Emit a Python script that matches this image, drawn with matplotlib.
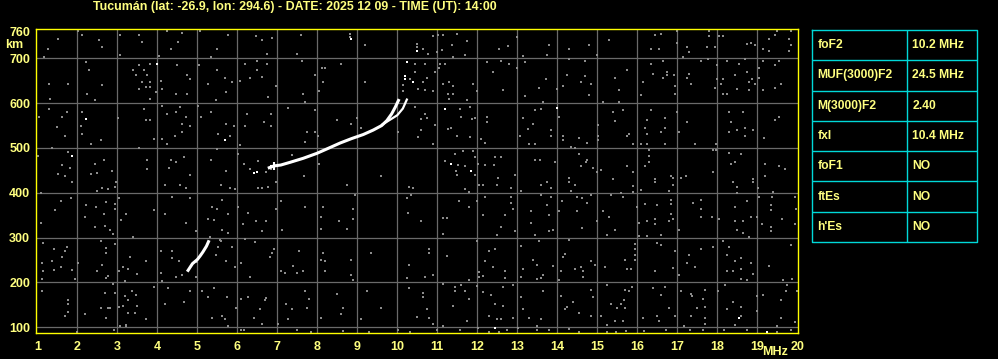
from matplotlib import pyplot as plt
import numpy as np

plt.rcParams.update({'font.family': 'Liberation Sans', 'font.weight': 'bold'})

title = "Tucumán (lat: -26.9, lon: 294.6) - DATE: 2025 12 09 - TIME (UT): 14:00"

freq_ticks = list(range(1, 21))
height_ticks = [100, 200, 300, 400, 500, 600, 700, 760]

# F2 ordinary trace
o_f = [6.80, 6.92, 7.09, 7.32, 7.65, 7.99, 8.32, 8.57, 8.86, 9.15, 9.40, 9.61, 9.74, 9.86, 9.95, 10.03]
o_h = [456, 460, 462, 468, 477, 488, 501, 511, 521, 530, 540, 550, 561, 576, 591, 606]
# F2 extraordinary branch
x_f = [9.62, 9.82, 10.00, 10.14, 10.24]
x_h = [552, 563, 573, 588, 608]
# lower trace
e_f = [4.77, 4.88, 5.00, 5.07, 5.14, 5.23, 5.28]
e_h = [227, 242, 251, 259, 268, 281, 291]
# isolated white echoes
white_f = [4.00, 2.23, 1.88, 5.69, 6.42, 6.50, 8.85, 10.24, 10.20, 10.20, 10.39, 10.49, 11.20, 11.35, 11.85, 13.99, 12.44, 18.54, 19.24]
white_h = [688, 565, 482, 518, 444, 447, 744, 691, 654, 660, 647, 717, 587, 464, 449, 590, 99, 121, 90]

table_rows = [("foF2", "10.2 MHz"), ("MUF(3000)F2", "24.5 MHz"), ("M(3000)F2", "2.40"),
              ("fxI", "10.4 MHz"), ("foF1", "NO"), ("ftEs", "NO"), ("h'Es", "NO")]

noise_upper_left = [
    (2.03, 762), (2.13, 753), (1.53, 744), (2.54, 740), (2.63, 725), (1.28, 721), (1.17, 703), (3.08, 753),
    (3.54, 753), (3.63, 736), (3.08, 708), (4.04, 706), (4.25, 760), (4.63, 757), (4.53, 736), (4.34, 720),
    (5.07, 762), (5.78, 753), (5.50, 721), (5.34, 703), (6.46, 750), (6.63, 740), (6.74, 710), (6.88, 745),
    (2.21, 691), (2.29, 673), (1.29, 643), (1.78, 643), (2.25, 620), (2.63, 641), (2.44, 607), (1.33, 609),
    (3.39, 674), (3.54, 684), (3.67, 675), (3.83, 688), (3.46, 662), (3.63, 648), (3.75, 662), (3.81, 647),
    (3.71, 635), (3.54, 632), (3.83, 635), (3.96, 624), (3.83, 609), (4.13, 632), (4.09, 650), (4.50, 684),
    (4.75, 662), (4.83, 653), (4.46, 620), (4.75, 620), (5.04, 684), (5.49, 673), (5.28, 643), (5.69, 656),
    (5.88, 647), (5.71, 624), (5.48, 606), (6.19, 688), (6.07, 650), (6.33, 656), (6.50, 693), (6.49, 674),
    (6.75, 688), (6.63, 658), (6.96, 639), (6.77, 613), (1.29, 587), (1.63, 570), (1.74, 581), (1.49, 546),
    (1.04, 568), (1.69, 527), (2.13, 581), (2.09, 550), (2.13, 531), (2.34, 509), (2.59, 518),
    (3.03, 567), (3.67, 587), (3.71, 563), (3.83, 563), (3.93, 521), (4.13, 594), (4.25, 576), (4.58, 591),
    (4.46, 581), (4.71, 568), (4.63, 553), (4.63, 535), (4.83, 550), (4.44, 527), (4.13, 520), (4.24, 509),
    (5.03, 593), (5.09, 568), (5.34, 581), (5.71, 553), (5.92, 550), (5.53, 531), (5.83, 526), (6.06, 506),
    (6.19, 548), (6.24, 576), (6.67, 557), (6.84, 576), (6.84, 550), (7.27, 589), (1.03, 482), (1.38, 501),
    (1.78, 490), (1.63, 462), (1.83, 456), (1.53, 441), (1.69, 438), (2.34, 441), (2.50, 444), (2.44, 464),
    (2.67, 473), (2.88, 449), (3.75, 473), (3.75, 454), (3.54, 501), (4.34, 473), (4.46, 469), (4.67, 479),
    (4.29, 456), (4.83, 439), (5.34, 473), (5.50, 497), (5.71, 449), (6.02, 486), (6.17, 464), (6.53, 470),
    (6.71, 447), (6.84, 454), (6.33, 453), (7.09, 462),
]
noise_upper_mid = [
    (8.82, 755), (8.82, 748), (7.59, 753), (7.49, 710), (9.20, 730), (10.49, 732), (10.49, 725), (10.65, 720),
    (10.78, 710), (10.99, 714), (10.90, 750), (11.03, 753), (11.15, 753), (11.49, 755), (11.36, 730),
    (11.74, 738), (11.70, 708), (11.39, 703), (11.11, 718), (12.55, 721), (12.78, 727), (12.99, 747),
    (13.14, 706), (7.61, 693), (8.11, 678), (8.19, 678), (8.59, 688), (7.95, 663), (8.15, 648), (8.05, 626),
    (7.64, 620), (7.70, 603), (9.19, 648), (10.45, 688), (10.32, 654), (10.45, 669), (10.70, 688),
    (10.74, 656), (10.65, 647), (10.53, 632), (10.70, 629), (10.90, 628), (10.14, 628), (10.15, 641),
    (10.94, 669), (11.07, 688), (11.20, 688), (11.05, 678), (11.30, 648), (11.40, 639), (11.15, 643),
    (11.28, 620), (11.30, 609), (11.39, 620), (11.74, 608), (11.89, 643), (11.99, 628), (12.24, 691),
    (12.39, 670), (12.59, 693), (12.80, 688), (12.65, 630), (12.99, 678), (13.19, 691), (13.19, 617),
    (13.55, 633), (7.95, 585), (8.49, 563), (8.84, 553), (8.99, 566), (9.10, 544), (7.95, 535), (8.03, 526),
    (7.74, 536), (7.70, 514), (10.45, 592), (10.70, 576), (10.60, 565), (10.74, 566), (10.94, 551),
    (11.57, 587), (11.82, 591), (11.86, 565), (11.95, 566), (11.59, 570), (12.24, 568), (12.25, 557),
    (11.34, 544), (11.28, 542), (11.49, 526), (11.82, 524), (10.59, 541), (10.53, 524), (10.89, 509),
    (10.03, 536), (12.09, 520), (12.19, 512), (13.14, 566), (13.28, 542), (13.07, 526), (13.30, 509),
    (13.45, 509), (13.39, 553), (13.45, 585), (13.59, 587), (13.64, 603), (7.36, 484), (8.05, 464),
    (7.67, 438), (9.59, 438), (11.20, 471), (11.45, 486), (11.65, 494), (11.89, 494), (11.95, 479),
    (11.53, 461), (11.70, 460), (11.47, 449), (11.49, 439), (11.95, 439), (12.03, 464), (12.19, 462),
    (12.42, 462), (12.44, 479), (12.59, 479), (12.94, 439), (13.45, 474), (13.57, 474), (12.53, 434),
]
noise_upper_right = [
    (13.80, 730), (13.74, 708), (14.30, 721), (14.79, 730), (15.30, 740), (14.99, 708), (16.45, 753),
    (16.59, 755), (16.34, 721), (16.54, 721), (16.99, 762), (16.99, 735), (17.24, 725), (17.30, 714),
    (17.15, 703), (17.80, 762), (17.80, 750), (18.05, 750), (18.15, 750), (17.75, 725), (17.94, 725),
    (18.74, 732), (18.84, 735), (18.94, 730), (19.14, 721), (19.30, 717), (19.30, 744), (19.45, 753),
    (19.50, 762), (19.84, 762), (19.80, 744), (19.84, 730), (19.80, 717), (13.71, 653), (14.24, 662),
    (14.69, 693), (14.59, 647), (14.70, 660), (14.84, 643), (14.80, 618), (13.99, 632), (14.14, 639),
    (14.30, 699), (15.74, 675), (15.44, 656), (15.55, 630), (15.15, 603), (15.55, 603), (16.09, 618),
    (16.14, 648), (16.34, 688), (16.64, 693), (16.39, 665), (16.64, 656), (16.75, 670), (16.75, 662),
    (16.92, 662), (16.94, 639), (16.94, 620), (17.30, 665), (17.25, 656), (17.34, 643), (17.59, 693),
    (17.78, 699), (17.99, 684), (17.95, 634), (17.99, 653), (18.24, 693), (18.54, 688), (18.69, 699),
    (18.74, 670), (18.44, 662), (18.14, 653), (18.09, 643), (18.49, 632), (18.14, 620), (18.25, 620),
    (18.79, 630), (18.79, 648), (18.88, 653), (18.94, 643), (19.04, 678), (19.04, 656), (19.14, 693),
    (19.45, 684), (19.55, 693), (19.59, 643), (19.45, 634), (19.14, 630), (14.04, 570), (13.84, 541),
    (13.84, 527), (14.14, 527), (14.14, 518), (14.54, 522), (14.74, 512), (15.03, 551), (15.03, 527),
    (15.03, 518), (15.39, 581), (15.44, 561), (15.64, 585), (15.74, 527), (15.80, 531), (15.89, 509),
    (16.34, 585), (16.24, 563), (16.20, 544), (16.24, 531), (16.10, 509), (16.24, 509), (16.69, 566),
    (16.69, 544), (16.59, 536), (16.69, 509), (17.05, 536), (16.99, 581), (17.24, 559), (17.44, 509),
    (18.30, 581), (18.64, 581), (18.34, 559), (18.50, 541), (18.69, 544), (18.89, 541), (18.30, 536),
    (18.69, 527), (19.17, 522), (19.45, 563), (19.55, 570), (17.98, 509), (14.34, 503), (14.45, 500),
    (14.54, 486), (13.94, 469), (14.71, 469), (14.74, 474), (14.59, 460), (14.89, 455), (14.99, 447),
    (15.09, 451), (14.30, 432), (15.74, 460), (15.89, 447), (15.39, 430), (16.30, 496), (16.30, 482),
    (16.30, 468), (16.20, 460), (16.45, 430), (16.84, 438), (16.89, 434), (17.09, 434), (17.21, 438),
    (17.89, 496), (17.98, 496), (18.30, 488), (18.59, 486), (18.44, 469), (18.34, 464), (17.89, 447),
    (19.19, 464), (19.19, 438), (19.55, 460), (19.69, 453), (18.89, 430),
]
noise_lower_left = [
    (1.09, 400), (1.88, 423), (2.50, 404), (2.63, 410), (2.78, 408), (2.96, 423), (2.94, 413), (4.19, 417),
    (4.58, 417), (4.73, 410), (5.59, 417), (5.83, 410), (5.94, 408), (6.53, 410), (6.63, 410), (6.78, 413),
    (6.98, 423), (1.59, 382), (1.84, 388), (1.44, 361), (1.09, 333), (2.23, 373), (2.48, 368), (2.73, 380),
    (2.19, 346), (2.44, 324), (2.67, 352), (2.69, 326), (2.83, 318), (2.89, 309), (2.94, 374), (2.94, 363),
    (3.09, 339), (3.04, 388), (3.23, 352), (3.39, 301), (3.93, 361), (4.19, 352), (4.38, 391), (4.83, 389),
    (4.73, 333), (4.96, 315), (5.38, 368), (5.50, 363), (5.63, 385), (5.27, 341), (5.43, 339), (5.63, 316),
    (5.78, 353), (5.78, 311), (6.03, 368), (6.14, 330), (6.28, 356), (6.48, 336), (6.71, 337), (6.63, 315),
    (7.09, 382), (7.13, 318), (6.98, 363), (1.14, 289), (1.42, 274), (1.75, 279), (1.69, 270), (1.38, 248),
    (1.63, 257), (1.13, 244), (1.14, 225), (1.42, 227), (1.59, 234), (1.88, 227), (1.94, 207), (1.13, 207),
    (2.02, 244), (2.59, 292), (2.73, 278), (2.73, 266), (2.94, 285), (2.63, 240), (2.50, 226), (2.73, 211),
    (2.78, 214), (3.04, 225), (3.14, 234), (3.28, 229), (3.49, 220), (3.33, 257), (3.73, 248), (3.19, 203),
    (4.09, 270), (4.38, 270), (4.38, 254), (4.54, 248), (4.09, 222), (4.13, 203), (4.46, 213), (4.63, 216),
    (5.59, 292), (5.53, 279), (5.88, 279), (5.46, 261), (5.73, 248), (5.94, 234), (6.09, 244), (6.19, 296),
    (6.44, 291), (6.33, 212), (6.92, 274), (6.88, 266), (6.83, 257), (7.09, 225), (7.19, 222), (1.13, 181),
    (1.78, 162), (1.78, 153), (1.69, 125), (1.77, 135), (2.19, 129), (2.69, 177), (2.59, 144), (2.78, 144),
    (2.83, 144), (2.89, 196), (2.94, 177), (2.73, 121), (3.04, 145), (3.14, 147), (3.19, 170), (3.28, 162),
    (3.38, 181), (3.46, 173), (3.49, 147), (3.28, 132), (3.44, 132), (3.21, 105), (3.73, 118), (3.92, 190),
    (4.28, 188), (4.19, 153), (4.68, 157), (4.83, 181), (5.13, 181), (5.28, 167), (5.43, 187), (5.38, 121),
    (5.63, 125), (5.69, 118), (5.74, 167), (5.78, 103), (5.96, 142), (6.09, 164), (6.28, 167), (6.42, 121),
    (6.56, 140), (6.71, 166), (6.69, 162), (6.63, 108), (7.03, 108), (7.23, 151), (7.28, 118), (3.08, 102),
    (3.21, 103), (2.00, 90), (2.93, 93), (6.09, 94), (6.17, 94), (5.00, 246), (4.98, 213), (5.33, 302),
    (5.58, 294),
]
noise_lower_mid = [
    (8.74, 417), (8.95, 395), (10.30, 413), (10.39, 411), (10.34, 395), (10.24, 388), (10.28, 356),
    (10.59, 337), (7.70, 368), (8.14, 368), (8.09, 346), (8.09, 320), (8.55, 337), (8.89, 363), (8.89, 342),
    (8.74, 320), (11.70, 408), (11.80, 402), (12.05, 417), (12.14, 417), (12.50, 417), (12.84, 410),
    (13.09, 404), (13.59, 417), (13.59, 395), (12.19, 391), (11.55, 382), (11.80, 368), (11.99, 382),
    (12.14, 350), (12.69, 350), (12.84, 391), (12.84, 378), (12.89, 363), (13.34, 359), (13.34, 333),
    (12.59, 324), (12.94, 315), (12.49, 306), (13.44, 306), (11.14, 343), (11.24, 343), (11.14, 309),
    (7.54, 270), (8.14, 266), (8.09, 251), (8.19, 248), (7.39, 237), (7.49, 222), (7.64, 225), (8.19, 225),
    (8.84, 251), (8.84, 216), (8.89, 205), (9.35, 266), (10.30, 239), (10.24, 209), (10.70, 212),
    (10.89, 216), (10.80, 274), (10.80, 266), (11.24, 259), (11.80, 205), (11.99, 292), (12.29, 270),
    (12.44, 274), (12.19, 248), (12.39, 234), (12.05, 224), (12.05, 212), (12.14, 214), (12.69, 225),
    (12.69, 209), (13.09, 281), (13.39, 251), (13.49, 239), (13.14, 229), (13.09, 212), (13.49, 207),
    (13.59, 209), (13.55, 292), (13.64, 216), (7.70, 181), (7.79, 164), (8.49, 175), (7.75, 142),
    (7.36, 140), (8.09, 121), (8.64, 144), (8.59, 130), (9.24, 181), (9.59, 144), (9.09, 118), (10.30, 187),
    (10.64, 177), (10.64, 167), (10.74, 140), (10.49, 123), (10.80, 121), (10.90, 108), (11.14, 197),
    (11.45, 190), (11.45, 181), (11.59, 194), (11.70, 181), (11.80, 164), (11.39, 147), (11.99, 192),
    (12.14, 179), (12.34, 172), (12.44, 152), (12.64, 147), (12.64, 190), (12.89, 194), (13.09, 167),
    (13.14, 140), (12.89, 121), (12.29, 125), (12.49, 118), (12.59, 118), (11.74, 114), (13.29, 121),
    (13.59, 118), (13.64, 182), (13.49, 103), (11.14, 103), (7.49, 95), (7.84, 90), (8.64, 91), (9.29, 90),
    (10.03, 95), (10.32, 90), (10.99, 93), (11.57, 93), (12.02, 99), (12.30, 90), (12.55, 90), (12.74, 93),
    (13.03, 99), (13.49, 93),
]
noise_lower_right = [
    (13.74, 423), (13.84, 410), (14.30, 423), (14.34, 404), (14.45, 417), (15.59, 400), (15.90, 415),
    (15.90, 402), (16.09, 406), (16.44, 423), (16.89, 417), (16.80, 404), (18.40, 423), (18.49, 413),
    (18.49, 400), (18.90, 423), (19.03, 411), (19.40, 402), (13.84, 391), (14.13, 382), (14.50, 391),
    (14.63, 388), (14.74, 378), (14.84, 395), (13.74, 373), (14.05, 359), (14.49, 359), (13.80, 350),
    (13.90, 318), (13.80, 315), (14.63, 322), (14.99, 337), (15.34, 395), (15.65, 391), (15.15, 359),
    (15.30, 346), (15.44, 318), (15.24, 306), (16.00, 368), (16.20, 376), (16.04, 333), (16.24, 336),
    (16.44, 330), (16.49, 373), (16.44, 341), (16.59, 306), (16.80, 337), (16.84, 385), (16.84, 376),
    (16.89, 341), (16.84, 353), (17.04, 318), (16.24, 304), (16.04, 304), (17.39, 378), (17.59, 385),
    (17.59, 363), (17.59, 346), (17.88, 346), (18.04, 341), (18.44, 368), (18.74, 382), (18.84, 346),
    (18.64, 337), (18.44, 337), (18.49, 318), (18.64, 311), (18.79, 301), (19.00, 346), (19.04, 391),
    (19.38, 391), (19.34, 373), (19.34, 361), (19.63, 341), (19.34, 324), (19.34, 315), (19.13, 330),
    (19.94, 391), (19.96, 363), (19.94, 330), (14.30, 294), (14.19, 264), (14.14, 257), (13.90, 237),
    (14.09, 225), (14.45, 231), (14.59, 234), (14.65, 225), (14.65, 212), (14.84, 248), (14.94, 240),
    (15.19, 234), (15.69, 251), (15.75, 229), (15.84, 229), (15.94, 285), (15.94, 274), (15.94, 261),
    (15.94, 251), (14.04, 205), (16.50, 289), (16.59, 283), (16.94, 270), (16.89, 233), (16.44, 225),
    (17.04, 216), (17.29, 261), (17.25, 244), (17.44, 234), (17.59, 274), (17.89, 279), (18.14, 292),
    (18.30, 279), (18.24, 261), (18.44, 248), (18.59, 254), (18.59, 229), (18.84, 244), (18.90, 218),
    (18.25, 225), (18.39, 225), (18.59, 207), (18.75, 205), (19.30, 237), (19.65, 205), (19.84, 283),
    (19.88, 208), (14.10, 170), (14.40, 157), (14.24, 145), (14.19, 140), (14.54, 132), (14.84, 184),
    (14.90, 167), (14.84, 126), (15.24, 194), (15.10, 125), (15.34, 153), (15.49, 144), (15.69, 184),
    (15.79, 181), (15.88, 190), (15.67, 162), (15.69, 144), (15.59, 153), (15.24, 105), (15.44, 114),
    (15.65, 114), (16.39, 187), (16.59, 172), (16.69, 190), (16.14, 121), (16.50, 125), (16.54, 114),
    (16.80, 144), (16.94, 125), (17.09, 181), (17.38, 170), (17.34, 175), (17.69, 184), (17.64, 164),
    (17.69, 145), (17.50, 144), (17.35, 125), (17.69, 121), (17.69, 108), (17.17, 104), (18.02, 181),
    (18.19, 194), (18.24, 140), (18.39, 157), (18.59, 145), (18.60, 125), (18.44, 106), (18.99, 170),
    (18.99, 136), (19.15, 172), (19.59, 162), (19.59, 121), (19.49, 103), (19.71, 182), (19.75, 194),
    (19.99, 182), (19.94, 112), (14.30, 97), (14.54, 90), (15.24, 90), (15.46, 90), (15.71, 91), (16.17, 91),
    (16.71, 93), (17.32, 93), (17.65, 93), (18.17, 93), (18.74, 93), (19.50, 90), (19.84, 95), (13.80, 93),
]

W, H = 998, 359
yellow = '#ffff00'
text_yellow = '#ffff80'
grey = '#6a6a6a'
dot_grey = '#8c8c8c'
cyan = '#00d8d8'

fig = plt.figure(figsize=(W / 100, H / 100), dpi=100, facecolor='black')
ax = fig.add_axes([35.7 / W, 1 - 333 / H, (798 - 35.7) / W, (333 - 29.3) / H])
ax.set_facecolor('black')
ax.set_xlim(0.96, 20.02)
ax.set_ylim(87.3, 764.7)

for f in freq_ticks[1:-1]:
    ax.axvline(f, color=grey, lw=0.9, zorder=1)
for h in height_ticks[:-1]:
    ax.axhline(h, color=grey, lw=0.9, zorder=1)

noise = np.array(noise_upper_left + noise_upper_mid + noise_upper_right
                 + noise_lower_left + noise_lower_mid + noise_lower_right)
ax.plot(noise[:, 0], noise[:, 1], 's', color=dot_grey, ms=1.9, mew=0, zorder=2)

ax.plot(o_f, o_h, color='white', lw=2.2, zorder=3)
ax.plot(x_f, x_h, color='white', lw=1.6, zorder=3)
ax.plot(e_f, e_h, color='white', lw=2.2, zorder=3)
ax.plot(white_f, white_h, 's', color='white', ms=2.0, mew=0, zorder=3)
ax.plot([6.92], [460], '+', color='white', ms=6, mew=1.5, zorder=3)

for s in ax.spines.values():
    s.set_color(yellow)
    s.set_linewidth(1.0)
ax.tick_params(length=0, colors=text_yellow, labelsize=9, pad=6)
ax.set_xticks(freq_ticks)
ax.set_xticklabels([str(f) for f in freq_ticks])
ax.set_yticks(height_ticks)
ax.set_yticklabels([str(h) for h in height_ticks])
ax.tick_params(axis='y', pad=4)
for lab in ax.get_xticklabels() + ax.get_yticklabels():
    lab.set_fontweight('bold')

fig.text(295 / W, 1 - 7 / H, title, color=text_yellow, fontsize=8.9, ha='center', va='center', fontweight='bold')
fig.text(14 / W, 1 - 45 / H, "km", color=text_yellow, fontsize=9, ha='center', va='center', fontweight='bold')
fig.text(775 / W, 1 - 352 / H, "MHz", color=text_yellow, fontsize=9, ha='center', va='center', fontweight='bold')

# parameter table
tab = fig.add_axes([812 / W, 1 - 242 / H, 165 / W, 212 / H])
tab.set_xlim(0, 165)
tab.set_ylim(212, 0)
tab.axis('off')
row_h = 212 / len(table_rows)
tab.plot([0, 165, 165, 0, 0], [0, 0, 212, 212, 0], color=cyan, lw=1.0, clip_on=False)
tab.plot([95, 95], [0, 212], color=cyan, lw=1.0)
for i, (name, val) in enumerate(table_rows):
    if i > 0:
        tab.plot([0, 165], [i * row_h, i * row_h], color=cyan, lw=1.0)
    yc = (i + 0.5) * row_h
    tab.text(5.5, yc, name, color=text_yellow, fontsize=8.7, va='center', ha='left', fontweight='bold')
    tab.text(100.5, yc, val, color=text_yellow, fontsize=8.7, va='center', ha='left', fontweight='bold')

fig.savefig('out.png', dpi=100, facecolor='black')
